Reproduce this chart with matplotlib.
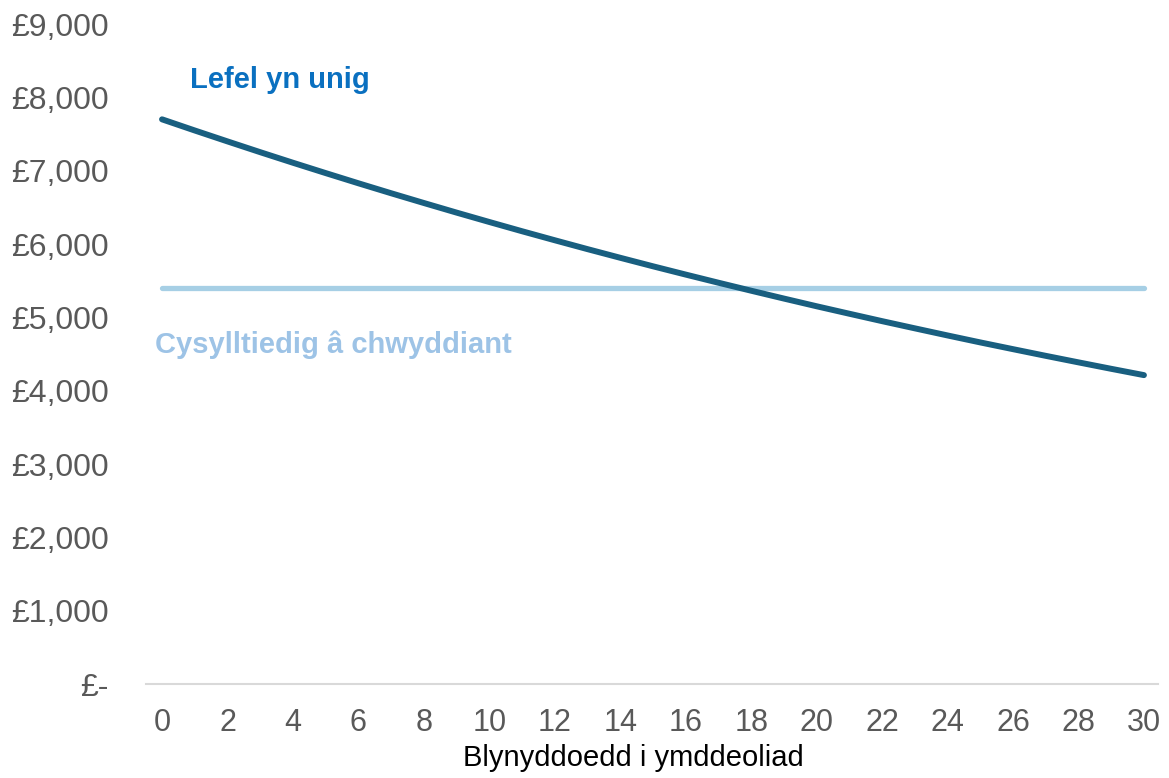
import matplotlib.pyplot as plt
from matplotlib.ticker import FuncFormatter

plt.rcParams['font.family'] = ['Liberation Sans', 'DejaVu Sans']

# Data
years = list(range(0, 31))
level_only = [7700, 7548, 7399, 7252, 7108, 6967, 6828, 6692, 6559, 6428,
              6300, 6174, 6051, 5930, 5812, 5696, 5583, 5472, 5363, 5256,
              5151, 5049, 4948, 4850, 4753, 4658, 4566, 4475, 4386, 4298,
              4212]
inflation_linked = [5400] * len(years)
x_ticks = list(range(0, 31, 2))
y_ticks = list(range(0, 9001, 1000))

fig = plt.figure(figsize=(11.69, 7.78), dpi=100)
ax = fig.add_axes([146 / 1169, 94 / 778, 1012 / 1169, 660 / 778])

ax.plot(years, inflation_linked, color='#A6CFE5', linewidth=3.8,
        solid_capstyle='round')
ax.plot(years, level_only, color='#195F80', linewidth=4.3,
        solid_capstyle='round')

ax.text(0.86, 8237, 'Lefel yn unig', color='#0A70C0', fontsize=21,
        fontweight='bold', va='center', ha='left')
ax.text(-0.21, 4630, 'Cysylltiedig â chwyddiant', color='#9DC3E6',
        fontsize=21, fontweight='bold', va='center', ha='left')

ax.set_xlim(-0.49, 30.43)
ax.set_ylim(0, 9000)
ax.set_xticks(x_ticks)
ax.set_yticks(y_ticks)


def pounds(v, pos):
    if v == 0:
        return '£-'
    return '£{:,.0f}'.format(v)


ax.yaxis.set_major_formatter(FuncFormatter(pounds))
ax.tick_params(axis='both', length=0, labelcolor='#595959')
ax.tick_params(axis='y', labelsize=23, pad=27)
ax.tick_params(axis='x', labelsize=22, pad=17)

for side in ['top', 'right', 'left']:
    ax.spines[side].set_visible(False)
ax.spines['bottom'].set_color('#D9D9D9')
ax.spines['bottom'].set_linewidth(1.5)

fig.text(633 / 1169, 1 - 758 / 778, 'Blynyddoedd i ymddeoliad',
         fontsize=21, color='black', ha='center', va='center')

fig.savefig('out.png', dpi=100)
